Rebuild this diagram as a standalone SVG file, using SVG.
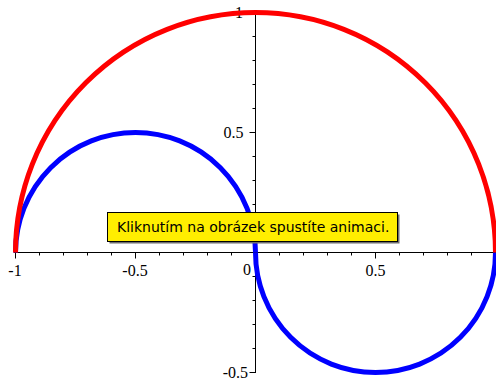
<svg xmlns="http://www.w3.org/2000/svg" width="496" height="380" viewBox="0 0 496 380">
<style>
.axis{stroke:#000;stroke-width:1;fill:none}
.curve{fill:none;stroke-width:5;stroke-linecap:butt}
.lbl{font-family:"Liberation Serif","Times New Roman",serif;font-size:16px;fill:#000}
.tip{font-family:"DejaVu Sans","Liberation Sans",sans-serif;font-size:14px;fill:#000}
</style>
<rect width="496" height="380" fill="#fff"/>
<g id="axes" class="axis">
<path d="M14 252.5H496M255.5 12V373"/>
<path d="M15.5 252.5v6M39.5 252.5v3M63.5 252.5v3M87.5 252.5v3M111.5 252.5v3M135.5 252.5v6M159.5 252.5v3M183.5 252.5v3M207.5 252.5v3M231.5 252.5v3M255.5 252.5v6M279.5 252.5v3M303.5 252.5v3M327.5 252.5v3M351.5 252.5v3M375.5 252.5v6M399.5 252.5v3M423.5 252.5v3M447.5 252.5v3M471.5 252.5v3M495.5 252.5v6"/>
<path d="M255.5 12.5h-6M255.5 36.5h-3M255.5 60.5h-3M255.5 84.5h-3M255.5 108.5h-3M255.5 132.5h-6M255.5 156.5h-3M255.5 180.5h-3M255.5 204.5h-3M255.5 228.5h-3M255.5 276.5h-3M255.5 300.5h-3M255.5 324.5h-3M255.5 348.5h-3M255.5 372.5h-6"/>
</g>
<g id="tick-labels" class="lbl">
<text x="15" y="276" text-anchor="middle">-1</text>
<text x="135" y="276" text-anchor="middle">-0.5</text>
<text x="247" y="275" text-anchor="middle">0</text>
<text x="375.5" y="276" text-anchor="middle">0.5</text>
<text x="243" y="18" text-anchor="end">1</text>
<text x="243.5" y="138" text-anchor="end">0.5</text>
<text x="248" y="378" text-anchor="end">-0.5</text>
</g>
<g id="curves">
<path id="blue-upper" class="curve" stroke="#0000ff" d="M15.5 252.5A120 120 0 0 1 255.5 252.5"/>
<path id="blue-lower" class="curve" stroke="#0000ff" d="M255.5 252.5A120 120 0 0 0 495.5 252.5"/>
<path id="red-arc" class="curve" stroke="#ff0000" d="M15.5 252.5A240 240 0 0 1 495.5 252.5"/>
</g>
<g id="tooltip">
<rect x="109.5" y="214.5" width="290" height="29" fill="#6e6e6e"/>
<rect x="107.5" y="212.5" width="290" height="29" fill="#ffee00" stroke="#000" stroke-width="1"/>
<text class="tip" x="117" y="231.5">Kliknutím na obrázek spustíte animaci.</text>
</g>
</svg>
